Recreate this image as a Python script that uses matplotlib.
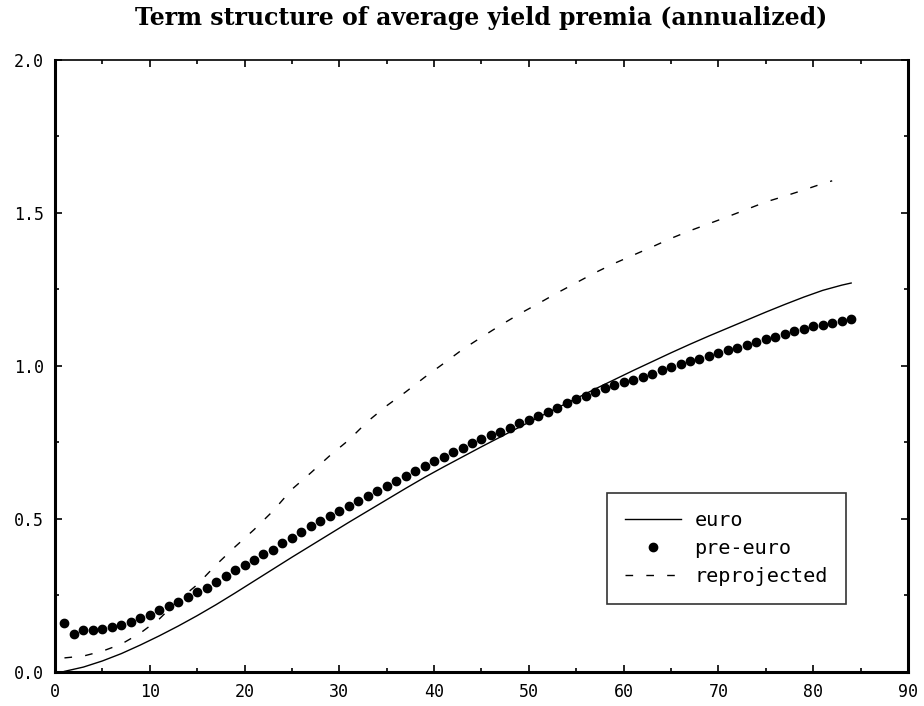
import numpy as np
from matplotlib import pyplot as plt
from matplotlib.legend_handler import HandlerLine2D
from matplotlib.ticker import MultipleLocator

plt.rcParams['lines.scale_dashes'] = False

# 到期月份 (pre-euro dots)
months = list(range(1, 85))
pre_euro = [0.161, 0.123, 0.138, 0.138, 0.141, 0.148, 0.154, 0.163, 0.176, 0.187,
            0.201, 0.216, 0.228, 0.245, 0.260, 0.274, 0.293, 0.312, 0.334, 0.349,
            0.367, 0.386, 0.400, 0.420, 0.438, 0.457, 0.476, 0.492, 0.509, 0.525,
            0.541, 0.558, 0.574, 0.590, 0.609, 0.623, 0.640, 0.656, 0.672, 0.688,
            0.704, 0.720, 0.733, 0.747, 0.760, 0.773, 0.785, 0.798, 0.812, 0.825,
            0.838, 0.851, 0.864, 0.878, 0.891, 0.902, 0.915, 0.927, 0.938, 0.949,
            0.955, 0.963, 0.974, 0.987, 0.998, 1.008, 1.016, 1.024, 1.033, 1.042,
            1.051, 1.060, 1.068, 1.079, 1.087, 1.096, 1.106, 1.115, 1.122, 1.129,
            1.133, 1.142, 1.147, 1.153]

# euro (solid line)
euro_x = [1, 3, 5, 7, 9, 11, 13, 15, 17, 19, 21, 23, 25, 27, 29, 31, 33, 35, 37, 39,
          41, 43, 45, 47, 49, 51, 53, 55, 57, 59, 61, 63, 65, 67, 69, 71, 73, 75, 77,
          79, 81, 83, 84]
euro_y = [0.002, 0.016, 0.036, 0.060, 0.088, 0.118, 0.150, 0.184, 0.220, 0.258,
          0.297, 0.336, 0.375, 0.413, 0.451, 0.489, 0.526, 0.563, 0.600, 0.636,
          0.670, 0.703, 0.736, 0.768, 0.800, 0.832, 0.863, 0.894, 0.925, 0.955,
          0.985, 1.014, 1.043, 1.071, 1.098, 1.124, 1.150, 1.176, 1.201, 1.225,
          1.247, 1.264, 1.271]

# reprojected (dashed line)
repro_x = [1, 3, 5, 7, 9, 11, 13, 15, 17, 19, 21, 23, 25, 27, 29, 31, 33, 35, 37, 39,
           41, 43, 45, 47, 49, 51, 53, 55, 57, 59, 61, 63, 65, 67, 69, 71, 73, 75, 77,
           79, 81, 82]
repro_y = [0.046, 0.052, 0.068, 0.091, 0.127, 0.173, 0.234, 0.285, 0.350, 0.409,
           0.465, 0.526, 0.597, 0.651, 0.707, 0.758, 0.819, 0.870, 0.915, 0.963,
           1.008, 1.054, 1.094, 1.133, 1.170, 1.204, 1.239, 1.272, 1.305, 1.335,
           1.362, 1.389, 1.417, 1.442, 1.465, 1.488, 1.512, 1.536, 1.555, 1.575,
           1.596, 1.605]


class LeftDot(HandlerLine2D):
    # put the single legend marker near the left end of the handle
    def get_xdata(self, legend, xdescent, ydescent, width, height, fontsize):
        xdata, _ = super().get_xdata(legend, xdescent, ydescent, width, height, fontsize)
        return xdata, [-xdescent + 0.15 * width]


mono = 'DejaVu Sans Mono'

# 1.创建画布
fig = plt.figure(figsize=(9.24, 7.06), dpi=100)
ax = fig.add_axes([0.0595, 0.0482, 0.9232, 0.8669])

# 2.绘制图像
ax.plot(euro_x, euro_y, color='black', linewidth=1.0, label='euro')
dots, = ax.plot(months, pre_euro, linestyle='none', marker='o', markersize=6,
                color='black', label='pre-euro')
ax.plot(repro_x, repro_y, color='black', linewidth=1.0, dashes=(5.5, 9.5),
        label='reprojected')

# 3.属性设置
ax.set_xlim(0, 90)
ax.set_ylim(0, 2.0)
ax.xaxis.set_major_locator(MultipleLocator(10))
ax.xaxis.set_minor_locator(MultipleLocator(5))
ax.yaxis.set_major_locator(MultipleLocator(0.5))
ax.yaxis.set_minor_locator(MultipleLocator(0.25))
ax.yaxis.set_major_formatter(lambda v, p: '%.1f' % v)
ax.tick_params(which='both', direction='in', top=True, right=True, width=1.2)
ax.tick_params(which='major', length=5, labelsize=12, pad=8)
ax.tick_params(which='minor', length=3)
for lab in ax.get_xticklabels() + ax.get_yticklabels():
    lab.set_family(mono)

for side in ['left', 'bottom', 'right']:
    ax.spines[side].set_linewidth(2.2)
ax.spines['top'].set_linewidth(1.2)

ax.set_title('Term structure of average yield premia (annualized)',
             family='DejaVu Serif', fontweight='bold', fontsize=17, pad=25)

# 4.添加图例
leg = ax.legend(loc='lower left', bbox_to_anchor=(0.647, 0.111), borderaxespad=0,
                prop={'family': mono, 'size': 14.5}, handlelength=2.8,
                handletextpad=0.65, borderpad=0.9, labelspacing=0.45,
                fancybox=False, handler_map={dots: LeftDot(numpoints=1)})
leg.get_frame().set_edgecolor('black')
leg.get_frame().set_linewidth(1.2)

plt.savefig('out.png', dpi=100)
